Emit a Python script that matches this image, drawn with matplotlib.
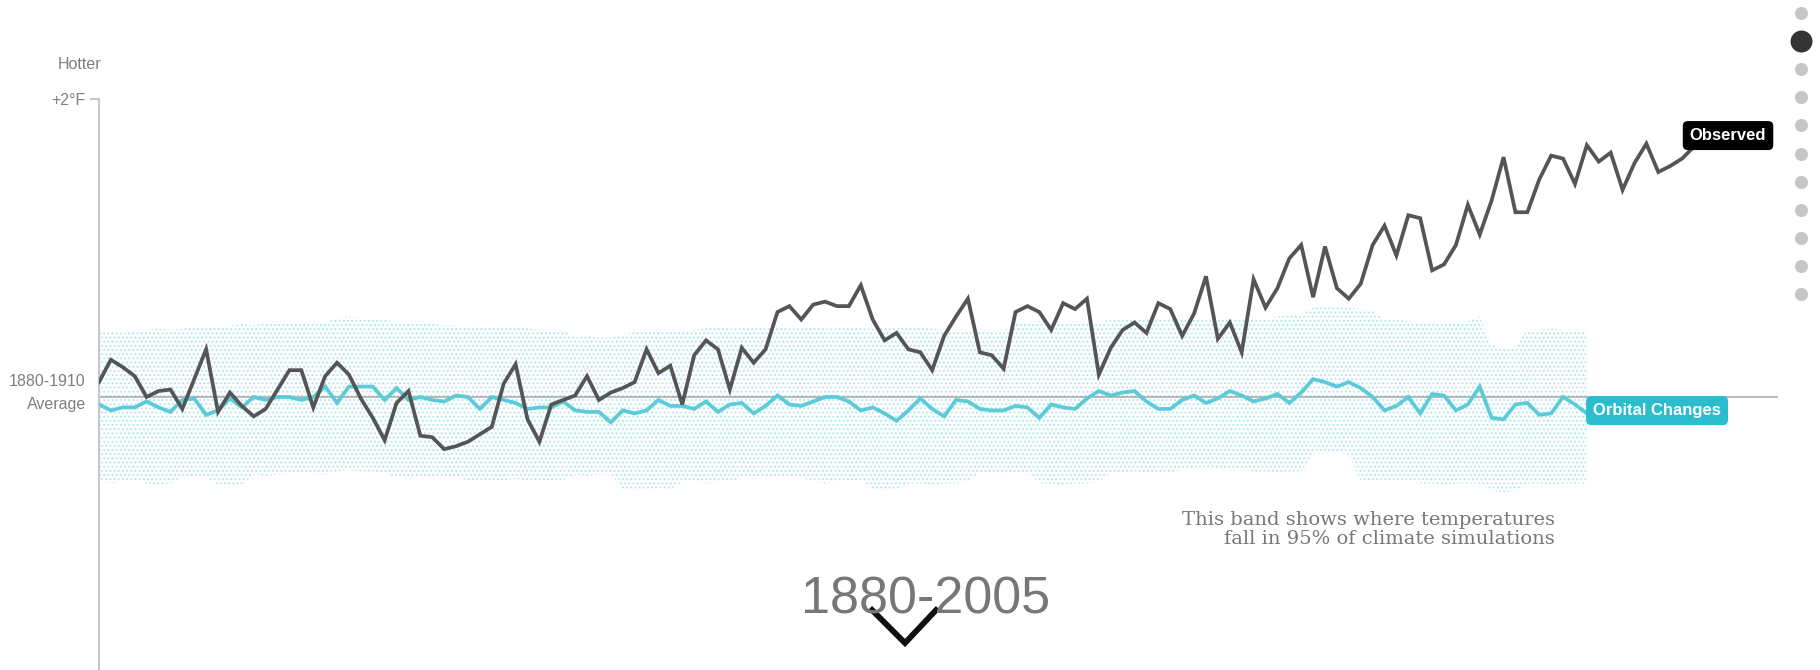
import matplotlib
matplotlib.use("Agg")
import matplotlib.pyplot as plt
from matplotlib.transforms import ScaledTranslation

# ---------------- data ----------------
obs_years = list(range(1880, 2015))
observed = [
    0.10, 0.25, 0.20, 0.14, 0.00, 0.04, 0.05, -0.08, 0.12, 0.32,
    -0.10, 0.03, -0.06, -0.13, -0.08, 0.05, 0.18, 0.18, -0.07, 0.14,
    0.23, 0.15, -0.01, -0.14, -0.29, -0.04, 0.04, -0.26, -0.27, -0.35,
    -0.33, -0.30, -0.25, -0.20, 0.09, 0.22, -0.15, -0.30, -0.05, -0.02,
    0.01, 0.14, -0.02, 0.03, 0.06, 0.10, 0.32, 0.16, 0.21, -0.05,
    0.28, 0.38, 0.32, 0.05, 0.33, 0.23, 0.32, 0.57, 0.61, 0.52,
    0.62, 0.64, 0.61, 0.61, 0.75, 0.52, 0.38, 0.43, 0.32, 0.30,
    0.18, 0.41, 0.54, 0.66, 0.30, 0.28, 0.19, 0.57, 0.61, 0.57,
    0.45, 0.63, 0.59, 0.66, 0.15, 0.33, 0.45, 0.50, 0.43, 0.63,
    0.59, 0.41, 0.56, 0.81, 0.39, 0.50, 0.30, 0.79, 0.60, 0.73,
    0.93, 1.02, 0.67, 1.01, 0.73, 0.66, 0.76, 1.02, 1.15, 0.95,
    1.22, 1.20, 0.85, 0.89, 1.02, 1.29, 1.09, 1.32, 1.61, 1.24,
    1.24, 1.46, 1.62, 1.60, 1.43, 1.69, 1.58, 1.64, 1.39, 1.57,
    1.70, 1.51, 1.55, 1.60, 1.68,
]

model_years = list(range(1880, 2006))
orbital = [
    -0.05, -0.09, -0.07, -0.07, -0.03, -0.07, -0.10, -0.02, -0.01, -0.12,
    -0.09, -0.01, -0.07, 0.00, -0.02, 0.00, 0.00, -0.02, 0.00, 0.07,
    -0.04, 0.07, 0.07, 0.07, -0.02, 0.06, -0.02, 0.00, -0.02, -0.03,
    0.01, 0.00, -0.08, 0.00, -0.02, -0.04, -0.08, -0.07, -0.07, -0.03,
    -0.09, -0.10, -0.10, -0.17, -0.09, -0.11, -0.09, -0.02, -0.06, -0.06,
    -0.08, -0.03, -0.10, -0.05, -0.04, -0.11, -0.06, 0.01, -0.05, -0.06,
    -0.03, 0.00, 0.00, -0.03, -0.09, -0.07, -0.11, -0.16, -0.09, -0.01,
    -0.08, -0.13, -0.02, -0.03, -0.08, -0.09, -0.09, -0.06, -0.07, -0.14,
    -0.05, -0.07, -0.08, -0.01, 0.04, 0.01, 0.03, 0.04, -0.03, -0.08,
    -0.08, -0.02, 0.01, -0.04, -0.01, 0.04, 0.01, -0.03, -0.01, 0.02,
    -0.04, 0.03, 0.12, 0.10, 0.07, 0.10, 0.06, 0.00, -0.09, -0.06,
    0.00, -0.11, 0.02, 0.01, -0.09, -0.05, 0.07, -0.14, -0.15, -0.05,
    -0.04, -0.12, -0.11, 0.00, -0.05, -0.11,
]
band_upper = [
    0.43, 0.44, 0.43, 0.44, 0.45, 0.46, 0.45, 0.46, 0.47, 0.46,
    0.47, 0.48, 0.49, 0.48, 0.50, 0.51, 0.50, 0.50, 0.51, 0.50,
    0.53, 0.54, 0.53, 0.53, 0.52, 0.50, 0.50, 0.51, 0.49, 0.48,
    0.48, 0.47, 0.48, 0.47, 0.46, 0.47, 0.46, 0.45, 0.44, 0.45,
    0.40, 0.41, 0.40, 0.40, 0.41, 0.44, 0.44, 0.45, 0.44, 0.44,
    0.45, 0.46, 0.47, 0.46, 0.46, 0.47, 0.46, 0.47, 0.46, 0.46,
    0.47, 0.46, 0.46, 0.47, 0.46, 0.46, 0.47, 0.46, 0.47, 0.47,
    0.46, 0.45, 0.45, 0.44, 0.45, 0.45, 0.44, 0.50, 0.50, 0.51,
    0.50, 0.50, 0.51, 0.50, 0.50, 0.52, 0.52, 0.53, 0.52, 0.52,
    0.53, 0.52, 0.52, 0.53, 0.52, 0.52, 0.53, 0.52, 0.52, 0.54,
    0.55, 0.56, 0.60, 0.61, 0.60, 0.60, 0.59, 0.58, 0.52, 0.52,
    0.51, 0.50, 0.50, 0.49, 0.50, 0.51, 0.54, 0.35, 0.33, 0.34,
    0.45, 0.45, 0.46, 0.45, 0.45, 0.45,
]
band_lower = [
    -0.57, -0.58, -0.57, -0.56, -0.58, -0.59, -0.58, -0.54, -0.53, -0.54,
    -0.59, -0.60, -0.59, -0.52, -0.53, -0.52, -0.52, -0.51, -0.52, -0.52,
    -0.50, -0.49, -0.50, -0.50, -0.51, -0.54, -0.55, -0.54, -0.54, -0.53,
    -0.54, -0.56, -0.57, -0.56, -0.56, -0.55, -0.56, -0.57, -0.56, -0.56,
    -0.52, -0.53, -0.52, -0.52, -0.62, -0.63, -0.62, -0.61, -0.62, -0.57,
    -0.57, -0.58, -0.57, -0.57, -0.54, -0.55, -0.54, -0.54, -0.53, -0.54,
    -0.57, -0.58, -0.57, -0.57, -0.56, -0.62, -0.63, -0.62, -0.58, -0.58,
    -0.59, -0.58, -0.58, -0.57, -0.51, -0.51, -0.52, -0.51, -0.51, -0.58,
    -0.58, -0.59, -0.58, -0.58, -0.57, -0.51, -0.51, -0.50, -0.51, -0.51,
    -0.51, -0.48, -0.48, -0.47, -0.48, -0.48, -0.48, -0.50, -0.50, -0.51,
    -0.50, -0.50, -0.38, -0.38, -0.37, -0.39, -0.56, -0.56, -0.57, -0.56,
    -0.56, -0.58, -0.58, -0.59, -0.58, -0.58, -0.58, -0.63, -0.64, -0.63,
    -0.58, -0.58, -0.59, -0.58, -0.58, -0.58,
]
ytick_values = [0, 2]
ytick_labels = ["1880-1910\nAverage", "+2°F"]
period_label = "1880-2005"
note_lines = ["This band shows where temperatures", "fall in 95% of climate simulations"]
nav_count = 11
nav_active = 1

# ---------------- figure ----------------
W, H = 1820, 670
fig = plt.figure(figsize=(W / 100, H / 100), dpi=100)
fig.patch.set_facecolor("white")

plt.rcParams["hatch.linewidth"] = 0.9
SANS = ["Liberation Sans", "DejaVu Sans"]

left_px, right_px = 99, 1778
px_per_year = (1694 - 99) / 134.0
ax = fig.add_axes([left_px / W, 0, (right_px - left_px) / W, 1])
ax.set_xlim(1880, 1880 + (right_px - left_px) / px_per_year)
zero_py, px_per_deg = 397, 149.0
ax.set_ylim((zero_py - H) / px_per_deg, zero_py / px_per_deg)
ax.patch.set_alpha(0)

for s in ["top", "right", "bottom"]:
    ax.spines[s].set_visible(False)
ax.spines["left"].set_color("#c9c9c9")
ax.spines["left"].set_linewidth(1.6)
ax.spines["left"].set_bounds(ax.get_ylim()[0], 2)
ax.set_xticks([])
ax.set_yticks(ytick_values)
ax.set_yticklabels(ytick_labels, fontfamily=SANS, fontsize=11.5, color="#7f7f7f",
                   linespacing=1.6)
ax.tick_params(axis="y", direction="out", length=6.5, width=1.5, color="#c9c9c9", pad=3)
zero_tick = ax.yaxis.get_major_ticks()[0]
zero_tick.tick1line.set_visible(False)
zero_tick.label1.set_transform(zero_tick.label1.get_transform()
                               + ScaledTranslation(0, 9.0 / 100, fig.dpi_scale_trans))

# band of simulations (dotted)
ax.fill_between(model_years, band_lower, band_upper, facecolor="none",
                edgecolor="#b3e5ee", hatch="....", linewidth=0, zorder=1)
ax.axhline(0, color="#a6a6a6", linewidth=1.1, zorder=2)
ax.plot(model_years, orbital, color="#5ccbd8", linewidth=2.7, zorder=3,
        solid_joinstyle="miter")
ax.plot(obs_years, observed, color="#555555", linewidth=2.7, zorder=4,
        solid_joinstyle="miter")

ax.annotate("Observed", xy=(obs_years[-1], observed[-1]), xytext=(24.5, 8.0),
            textcoords="offset points", ha="center", va="center",
            fontfamily=SANS, fontsize=12, fontweight="bold", color="white", zorder=6,
            bbox=dict(boxstyle="round,pad=0.42,rounding_size=0.3", fc="black", ec="none"))
ax.annotate("Orbital Changes", xy=(model_years[-1], orbital[-1]), xytext=(4.5, 2.0),
            textcoords="offset points", ha="left", va="center",
            fontfamily=SANS, fontsize=12, fontweight="bold", color="white", zorder=6,
            bbox=dict(boxstyle="round,pad=0.42,rounding_size=0.3", fc="#2bbdcd", ec="none"))

# ---------------- decorations in pixel space ----------------
ov = fig.add_axes([0, 0, 1, 1])
ov.set_xlim(0, W)
ov.set_ylim(H, 0)
ov.axis("off")

ov.text(80, 69, "Hotter", ha="center", va="baseline", fontfamily=SANS,
        fontsize=11.5, color="#7f7f7f")
ov.text(1555, 525, note_lines[0], ha="right", va="baseline",
        fontfamily=["DejaVu Serif"], fontsize=14, color="#777777")
ov.text(1555, 544, note_lines[1], ha="right", va="baseline",
        fontfamily=["DejaVu Serif"], fontsize=14, color="#777777")
ov.text(926, 613, period_label, ha="center", va="baseline", fontfamily=SANS,
        fontsize=37.5, color="#777777")
ov.plot([870, 905, 938], [608, 643, 608], color="#111111", linewidth=4.2,
        solid_joinstyle="miter", solid_capstyle="butt")

nav_y0, nav_step = 13, 28.1
for k in range(nav_count):
    if k == nav_active:
        ov.scatter([1801], [nav_y0 + k * nav_step], s=250, color="#333333", linewidths=0)
    else:
        ov.scatter([1801], [nav_y0 + k * nav_step], s=88, color="#c6c6c6", linewidths=0)

fig.savefig("out.png", dpi=100, facecolor="white")
